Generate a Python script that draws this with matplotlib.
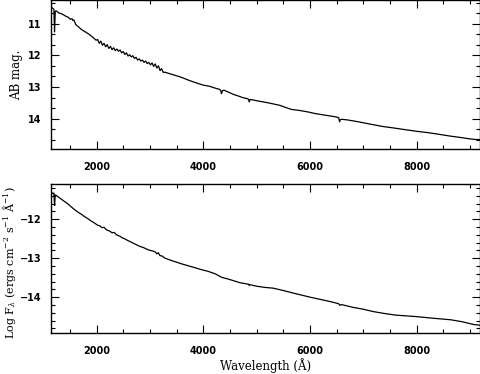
import numpy as np
import matplotlib
matplotlib.use("Agg")
import matplotlib.pyplot as plt
from matplotlib.ticker import MultipleLocator

plt.rcParams["mathtext.fontset"] = "dejavuserif"

# wavelength grid (Angstrom) and AB magnitude
wave_ab = [1150, 1165, 1185, 1200, 1212, 1225, 1250, 1290, 1336, 1380, 1420, 1462,
           1510, 1540, 1556, 1575, 1610, 1649, 1700, 1750, 1800, 1837, 1880, 1930,
           1990, 2020, 2050, 2080, 2110, 2140, 2170, 2200, 2230, 2260, 2290, 2320,
           2350, 2380, 2410, 2440, 2470, 2500, 2530, 2560, 2590, 2620, 2650, 2680,
           2710, 2740, 2770, 2800, 2830, 2860, 2890, 2920, 2950, 2980, 3010, 3040,
           3070, 3100, 3130, 3160, 3190, 3220, 3250, 3280, 3350, 3468, 3550, 3630,
           3717, 3800, 3905, 4000, 4124, 4250, 4300, 4325, 4343, 4360, 4387, 4470,
           4561, 4650, 4749, 4830, 4850, 4862, 4875, 4906, 5050, 5187, 5300, 5437,
           5550, 5656, 5800, 5967, 6100, 6281, 6400, 6500, 6540, 6556, 6568, 6594,
           6700, 6843, 7000, 7150, 7374, 7550, 7750, 7999, 8200, 8400, 8624, 8800,
           9000, 9100, 9190]
ab_mag = [10.44, 10.50, 10.52, 10.55, 11.26, 10.60, 10.60, 10.66, 10.68, 10.72, 10.76, 10.79,
          10.86, 10.84, 10.90, 10.88, 11.03, 11.08, 11.16, 11.22, 11.27, 11.31, 11.36, 11.43,
          11.52, 11.50, 11.62, 11.55, 11.68, 11.62, 11.73, 11.66, 11.78, 11.72, 11.82, 11.76,
          11.85, 11.80, 11.87, 11.83, 11.92, 11.88, 11.97, 11.92, 12.02, 11.98, 12.05, 12.01,
          12.10, 12.06, 12.15, 12.11, 12.18, 12.15, 12.22, 12.18, 12.26, 12.22, 12.30, 12.24,
          12.35, 12.27, 12.40, 12.33, 12.48, 12.42, 12.54, 12.53, 12.57, 12.63, 12.67, 12.72,
          12.78, 12.83, 12.89, 12.94, 12.98, 13.05, 13.07, 13.10, 13.21, 13.12, 13.10, 13.16,
          13.23, 13.28, 13.34, 13.37, 13.39, 13.47, 13.40, 13.40, 13.45, 13.49, 13.53, 13.58,
          13.65, 13.71, 13.74, 13.79, 13.84, 13.89, 13.92, 13.95, 13.97, 14.10, 14.04, 14.02,
          14.04, 14.08, 14.13, 14.18, 14.25, 14.29, 14.34, 14.40, 14.44, 14.49, 14.55, 14.59,
          14.64, 14.66, 14.66]

# wavelength grid (Angstrom) and log flux density
wave_fl = [1150, 1165, 1185, 1200, 1212, 1225, 1250, 1300, 1360, 1410, 1462, 1520,
           1580, 1649, 1720, 1780, 1837, 1900, 1960, 2024, 2060, 2100, 2140, 2180,
           2212, 2250, 2290, 2330, 2370, 2399, 2440, 2480, 2520, 2587, 2650, 2720,
           2812, 2880, 2940, 3000, 3060, 3100, 3130, 3156, 3190, 3220, 3280, 3360,
           3468, 3600, 3780, 3950, 4093, 4220, 4343, 4500, 4687, 4850, 4862, 4875,
           5000, 5150, 5311, 5500, 5700, 6000, 6200, 6400, 6540, 6563, 6590, 6800,
           7000, 7186, 7400, 7600, 8000, 8300, 8637, 8850, 9061, 9190]
log_flux = [-11.30, -11.33, -11.35, -11.33, -11.65, -11.38, -11.40, -11.45, -11.51, -11.56, -11.61, -11.68,
            -11.75, -11.82, -11.88, -11.94, -11.99, -12.05, -12.10, -12.16, -12.17, -12.22, -12.21, -12.27,
            -12.29, -12.31, -12.35, -12.34, -12.40, -12.42, -12.44, -12.48, -12.50, -12.55, -12.59, -12.64,
            -12.70, -12.73, -12.77, -12.80, -12.82, -12.84, -12.89, -12.86, -12.94, -12.94, -13.00, -13.04,
            -13.09, -13.15, -13.22, -13.29, -13.34, -13.40, -13.49, -13.55, -13.63, -13.67, -13.70, -13.68,
            -13.72, -13.75, -13.77, -13.83, -13.90, -14.00, -14.06, -14.12, -14.17, -14.21, -14.19, -14.26,
            -14.31, -14.37, -14.42, -14.46, -14.50, -14.54, -14.58, -14.63, -14.70, -14.72]

LABEL_FONT = "DejaVu Serif"
TICK_FONT = "DejaVu Sans"

fig = plt.figure(figsize=(4.81, 3.74), dpi=100)
ax1 = fig.add_axes([0.106, 0.6016, 0.892, 0.3984])
ax2 = fig.add_axes([0.106, 0.1096, 0.892, 0.3984])

ax1.plot(wave_ab, ab_mag, color="k", lw=0.9)
ax1.set_xlim(1145, 9190)
ax1.set_ylim(14.96, 10.25)
ax1.yaxis.set_major_locator(MultipleLocator(1))
ax1.yaxis.set_minor_locator(MultipleLocator(1 / 3))
ax1.set_ylabel("AB mag.", family=LABEL_FONT, fontsize=8.5)
ax1.yaxis.set_label_coords(-0.065, 0.5)

ax2.plot(wave_fl, log_flux, color="k", lw=0.9)
ax2.set_xlim(1145, 9190)
ax2.set_ylim(-14.92, -11.1)
ax2.yaxis.set_major_locator(MultipleLocator(1))
ax2.yaxis.set_minor_locator(MultipleLocator(0.2))
ax2.set_ylabel(r"Log F$_\lambda$ (ergs cm$^{-2}$ s$^{-1}$ Å$^{-1}$)",
               family=LABEL_FONT, fontsize=8)
ax2.yaxis.set_label_coords(-0.077, 0.47)
ax2.set_xlabel("Wavelength (Å)", family=LABEL_FONT, fontsize=8.5, labelpad=2)

for ax in (ax1, ax2):
    ax.xaxis.set_major_locator(MultipleLocator(2000))
    ax.xaxis.set_minor_locator(MultipleLocator(500))
    ax.tick_params(which="both", direction="in", top=True, right=True, width=0.8)
    ax.tick_params(which="major", length=5.5)
    ax.tick_params(which="minor", length=3)
    ax.tick_params(axis="x", pad=9)
    ax.tick_params(axis="y", pad=7)
    for lab in ax.get_xticklabels() + ax.get_yticklabels():
        lab.set_family(TICK_FONT)
        lab.set_fontsize(7)
        lab.set_fontweight("bold")
    for sp in ax.spines.values():
        sp.set_linewidth(1.0)

fig.savefig("out.png", dpi=100)
